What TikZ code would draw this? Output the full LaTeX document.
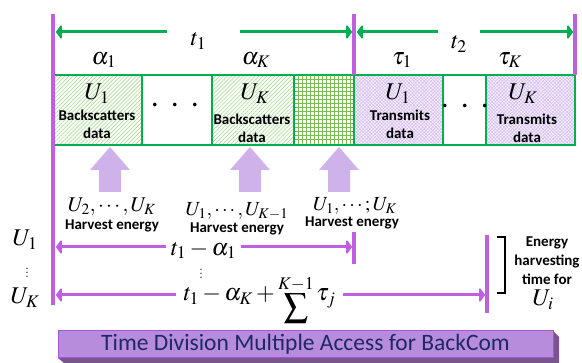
\documentclass[tikz,border=0pt]{standalone}
\usepackage{mathptmx}
\usepackage{fontspec}
\newfontfamily\labelfont{Carlito}
\usetikzlibrary{arrows.meta,patterns.meta}

\definecolor{gline}{RGB}{0,176,80}
\definecolor{hatchgreen}{RGB}{170,210,145}
\definecolor{gridgreen}{RGB}{120,190,85}
\definecolor{pline}{RGB}{192,96,224}
\definecolor{lav}{RGB}{210,185,240}
\definecolor{blockpurple}{RGB}{208,178,234}
\definecolor{bannerfill}{RGB}{183,140,220}
\definecolor{bannerline}{RGB}{165,85,215}
\definecolor{bannershade}{RGB}{120,85,140}
\definecolor{bannertext}{RGB}{30,40,100}

% a sum sign with its upper limit set close above it, sitting low on the line
\newcommand{\sumupto}[1]{\mathop{\lower13pt\vbox{\offinterlineskip
  \halign{\hfil##\hfil\cr$\scriptstyle #1$\cr\noalign{\kern2pt}$\displaystyle\sum$\cr}}}}

\begin{document}
\begin{tikzpicture}[x=1pt,y=-1pt,
  cell/.style={draw=gline,line width=2.8pt,minimum height=70pt,anchor=north west,inner sep=0pt,outer sep=0pt},
  backcell/.style={cell,preaction={fill=green!3},pattern={Lines[angle=45,distance=2.8pt,line width=0.5pt]},pattern color=hatchgreen},
  txcell/.style={cell,preaction={fill=lav!20},pattern={Hatch[angle=45,distance=2.4pt,line width=0.45pt]},pattern color=lav},
  gridline/.style={draw=gridgreen,line width=0.6pt},
  bigmath/.style={font=\fontsize{24}{26}\selectfont,inner sep=0pt},
  smallmath/.style={font=\fontsize{20}{22}\selectfont,inner sep=0pt},
  vdotsnode/.style={font=\fontsize{16}{16}\selectfont,inner sep=0pt},
  celltext/.style={font=\labelfont\bfseries\fontsize{15}{18}\selectfont,align=center,inner sep=0pt},
  notetext/.style={font=\labelfont\bfseries\fontsize{15}{19}\selectfont,align=center,inner sep=0pt},
  dotsnode/.style={font=\fontsize{34}{34}\selectfont,inner sep=0pt},
  garrow/.style={draw=gline,line width=3pt,-{Triangle[round,length=6pt,width=16pt]}},
  parrow/.style={draw=pline,line width=3pt,-{Triangle[round,length=6pt,width=16pt]}},
  pbar/.style={draw=pline,line width=3.5pt},
  harvest/.pic={\fill[blockpurple] (-11,45) -- (-11,23) -- (-20,23) -- (0,0) -- (20,23) -- (11,23) -- (11,45) -- cycle;}
]
\useasboundingbox (0,0) rectangle (582,363);

% fine grid of the idle slot
\foreach \gx in {298,302,...,350} \draw[gridline] (\gx,75) -- (\gx,145);
\foreach \gy in {79,83,...,141} \draw[gridline] (294,\gy) -- (354,\gy);

% time slots of the frame
\node[backcell,minimum width=89pt] (c1) at (53,75) {};
\node[cell,minimum width=70pt] (c2) at (142,75) {};
\node[backcell,minimum width=82pt] (c3) at (212,75) {};
\node[cell,minimum width=60pt] (c4) at (294,75) {};
\node[txcell,minimum width=89pt] (c5) at (354,75) {};
\node[cell,minimum width=43pt] (c6) at (443,75) {};
\node[txcell,minimum width=89pt] (c7) at (486,75) {};

% slot contents
\node[bigmath] (u1) at (97,94) {$U_1$};
\node[celltext] (b1) at (97,124) {Backscatters\\data};
\node[dotsnode] (d1) at (175,106) {$\cdot\hskip6pt\cdot\hskip6pt\cdot$};
\node[bigmath] (uk) at (255,94) {$U_K$};
\node[celltext] (bk) at (252,128) {Backscatters\\data};
\node[bigmath] (v1) at (398,94) {$U_1$};
\node[celltext] (x1) at (400,124) {Transmits\\data};
\node[dotsnode] (d2) at (465,107) {$\cdot\hskip6pt\cdot\hskip6pt\cdot$};
\node[bigmath] (vk) at (523,94) {$U_K$};
\node[celltext] (xk) at (527,128) {Transmits\\data};

% slot durations
\node[bigmath] (al1) at (104,60) {$\alpha_1$};
\node[bigmath] (alk) at (256,60) {$\alpha_K$};
\node[bigmath] (ta1) at (402,60) {$\tau_1$};
\node[bigmath] (tak) at (510,60) {$\tau_K$};

% phase boundaries
\draw[pbar] (53,14) -- (53,305);
\draw[pbar] (354,14) -- (354,75);
\draw[pbar] (575,14) -- (575,75);

% phase lengths t1 and t2
\node[bigmath,minimum width=73pt] (t1) at (203.5,41) {$t_1$\hspace*{10pt}};
\node[bigmath,minimum width=42pt] (t2) at (459,44) {$t_2$};
\coordinate (L1) at (56,32);
\coordinate (R1) at (352,32);
\coordinate (L2) at (357,32);
\coordinate (R2) at (573,32);
\draw[garrow] (t1.west |- L1) -- (L1);
\draw[garrow] (t1.east |- R1) -- (R1);
\draw[garrow] (t2.west |- L2) -- (L2);
\draw[garrow] (t2.east |- R2) -- (R2);

% harvesting arrows
\pic at (110,147) {harvest};
\pic at (250,147) {harvest};
\pic at (339,147) {harvest};
\node[smallmath,font=\fontsize{21}{22}\selectfont] (h1) at (112,207) {$U_2,\cdots,U_K$};
\node[celltext] (e1) at (112,226) {Harvest energy};
\node[smallmath] (h2) at (237,211) {$U_1,\cdots,U_{K-1}$};
\node[celltext] (e2) at (237,229) {Harvest energy};
\node[smallmath] (h3) at (355,206) {$U_1,\cdots;U_K$};
\node[celltext] (e3) at (352,223) {Harvest energy};

% harvesting times per device
\node[bigmath] (n1) at (25,240) {$U_1$};
\node[vdotsnode] (nd) at (27,270) {$\vdots$};
\node[bigmath] (nk) at (25,298) {$U_K$};

\node[bigmath,minimum width=75pt] (a1) at (203.5,250) {$t_1-\alpha_1$};
\node[vdotsnode] (ad) at (201,271) {$\vdots$};
\coordinate (P1) at (56,247);
\coordinate (Q1) at (352,247);
\draw[parrow] (a1.west |- P1) -- (P1);
\draw[parrow] (a1.east |- Q1) -- (Q1);
\draw[pbar] (354,232) -- (354,264);

\node[bigmath,minimum width=167pt,anchor=base] (a2) at (259.5,301)
  {$t_1-\alpha_K+\sumupto{K-1}\tau_j$};
\coordinate (P2) at (56,295);
\coordinate (Q2) at (485,295);
\draw[parrow] (a2.west |- P2) -- (P2);
\draw[parrow] (a2.east |- Q2) -- (Q2);
\draw[pbar] (487,235) -- (487,313);

% bracket and note
\draw[black,line width=2.6pt] (497,237) -- (505,237) -- (505,293) -- (497,293);
\node[notetext] (note) at (547,261) {Energy\\harvesting\\time for};
\node[bigmath] (ui) at (543,300) {$U_i$};

% title banner
\fill[bannershade] (58,358) -- (553,358) -- (553,331) -- (559,337) -- (559,363) -- (64,363) -- cycle;
\node[draw=bannerline,line width=1pt,fill=bannerfill,minimum width=495pt,minimum height=27pt,inner sep=0pt,
      font=\labelfont\fontsize{23.5}{25}\selectfont,text=bannertext] (title) at (305.5,344.5) {Time Division Multiple Access for BackCom};
\end{tikzpicture}
\end{document}
